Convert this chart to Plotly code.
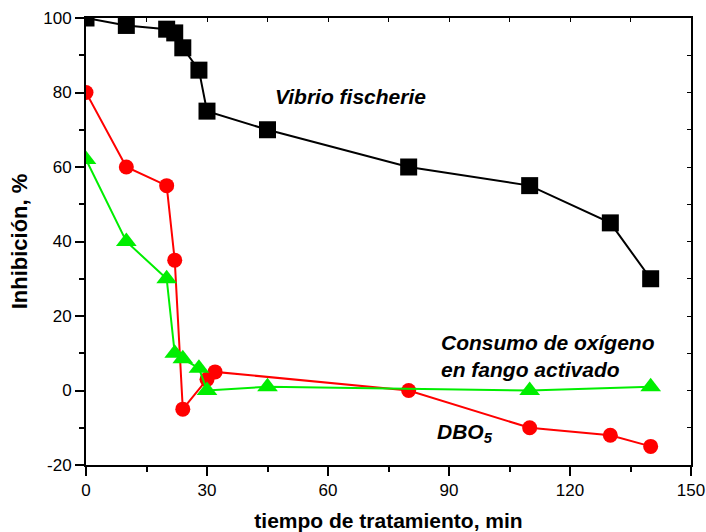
import plotly.graph_objects as go

# Vibrio fischerie
vib_x = [0, 10, 20, 22, 24, 28, 30, 45, 80, 110, 130, 140]
vib_y = [100, 98, 97, 96, 92, 86, 75, 70, 60, 55, 45, 30]
# DBO5
dbo_x = [0, 10, 20, 22, 24, 30, 32, 80, 110, 130, 140]
dbo_y = [80, 60, 55, 35, -5, 3, 5, 0, -10, -12, -15]
# Consumo de oxígeno en fango activado
oxi_x = [0, 10, 20, 22, 24, 28, 30, 45, 110, 140]
oxi_y = [62, 40, 30, 10, 8.5, 6, 0, 1, 0, 1]

# tick labels
x_ticks = [0, 30, 60, 90, 120, 150]
x_ticklabels = ["0", "30", "60", "90", "120", "150"]
y_ticks = [-20, 0, 20, 40, 60, 80, 100]
y_ticklabels = ["-20", "0", "20", "40", "60", "80", "100"]

FONT = "Liberation Sans, Arial, sans-serif"

fig = go.Figure()
fig.add_trace(go.Scatter(x=vib_x, y=vib_y, mode="lines+markers",
                         line=dict(color="black", width=2),
                         marker=dict(symbol="square", size=17, color="black"),
                         showlegend=False))
fig.add_trace(go.Scatter(x=dbo_x, y=dbo_y, mode="lines+markers",
                         line=dict(color="#ff0000", width=2),
                         marker=dict(symbol="circle", size=15, color="#ff0000"),
                         showlegend=False))
fig.add_trace(go.Scatter(x=oxi_x, y=oxi_y, mode="lines+markers",
                         line=dict(color="#00ee00", width=2),
                         marker=dict(symbol="triangle-up", size=18, color="#00ee00"),
                         showlegend=False))
# empty trace to activate mirror axes
fig.add_trace(go.Scatter(x=[], y=[], xaxis="x2", yaxis="y2", showlegend=False))

axis_common = dict(showgrid=False, zeroline=False, showline=True,
                   linecolor="black", linewidth=2, automargin=False)

fig.update_layout(
    width=706, height=532,
    margin=dict(l=86, r=15, t=18, b=67),
    plot_bgcolor="white", paper_bgcolor="white",
    font=dict(family=FONT, color="black"),
    xaxis=dict(range=[0, 150], tickmode="array", tickvals=x_ticks, ticktext=x_ticklabels,
               ticks="outside", ticklen=9, tickwidth=1.5, tickcolor="black",
               minor=dict(dtick=15, tick0=0, ticks="outside", ticklen=5, tickwidth=1.5, tickcolor="black"),
               tickfont=dict(size=17, family=FONT),
               title=dict(text="<b>tiempo de tratamiento, min</b>", font=dict(size=21, family=FONT), standoff=14),
               **axis_common),
    yaxis=dict(range=[-20, 100], tickmode="array", tickvals=y_ticks, ticktext=y_ticklabels,
               ticks="outside", ticklen=9, tickwidth=1.5, tickcolor="black",
               minor=dict(dtick=10, tick0=0, ticks="outside", ticklen=5, tickwidth=1.5, tickcolor="black"),
               tickfont=dict(size=17, family=FONT),
               title=dict(text="<b>Inhibición, %</b>", font=dict(size=22, family=FONT), standoff=10),
               **axis_common),
    xaxis2=dict(range=[0, 150], overlaying="x", side="top", dtick=15, ticks="inside",
                ticklen=4, tickcolor="black", showticklabels=False, **axis_common),
    yaxis2=dict(range=[-20, 100], overlaying="y", side="right", dtick=10, ticks="inside",
                ticklen=4, tickcolor="black", showticklabels=False, **axis_common),
)

ann_font = dict(family=FONT, size=21, color="black")
fig.add_annotation(x=46.4, y=78.8, text="<b><i>Vibrio fischerie</i></b>", showarrow=False,
                   xanchor="left", yanchor="middle", font=ann_font)
fig.add_annotation(x=87.5, y=9.3, text="<b><i>Consumo de oxígeno<br>en fango activado</i></b>",
                   showarrow=False, xanchor="left", yanchor="middle", align="left", font=ann_font)
fig.add_annotation(x=86.5, y=-11.4, text="<b><i>DBO<sub>5</sub></i></b>", showarrow=False,
                   xanchor="left", yanchor="middle", font=ann_font)

fig.write_html("out.html")
